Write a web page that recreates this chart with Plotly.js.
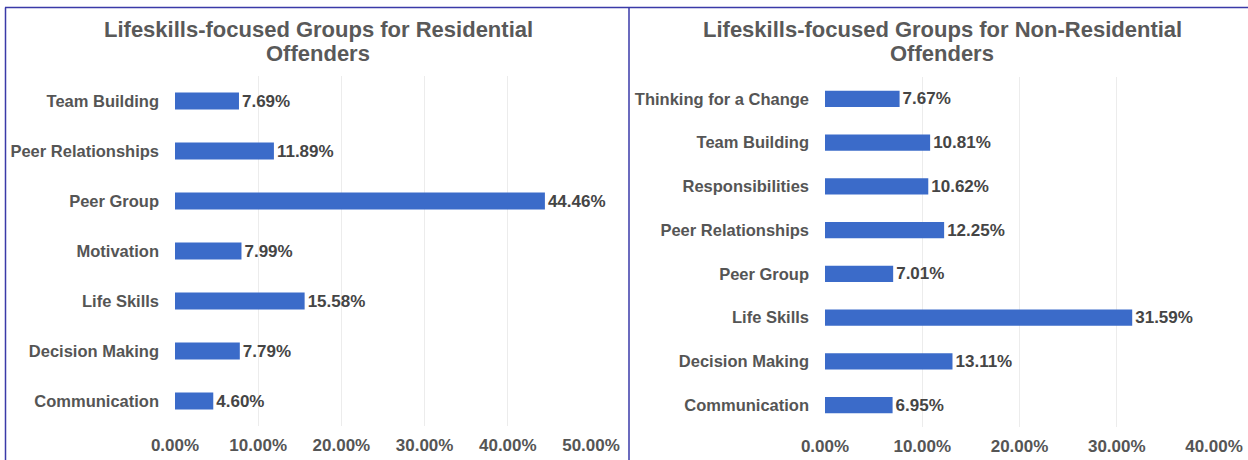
<!DOCTYPE html>
<html>
<head>
<meta charset="utf-8">
<script src="https://cdn.plot.ly/plotly-3.0.1.min.js"></script>
<style>
html,body{margin:0;padding:0;background:#fff;}
#chart{width:1248px;height:460px;}
</style>
</head>
<body>
<div id="chart"></div>
<script>
// Left chart: Residential offenders (top to bottom)
const resCategories = ["Team Building", "Peer Relationships", "Peer Group", "Motivation", "Life Skills", "Decision Making", "Communication"];
const resValues = [7.69, 11.89, 44.46, 7.99, 15.58, 7.79, 4.60];
const resTicks = [0, 10, 20, 30, 40, 50];

// Right chart: Non-Residential offenders (top to bottom)
const nonResCategories = ["Thinking for a Change", "Team Building", "Responsibilities", "Peer Relationships", "Peer Group", "Life Skills", "Decision Making", "Communication"];
const nonResValues = [7.67, 10.81, 10.62, 12.25, 7.01, 31.59, 13.11, 6.95];
const nonResTicks = [0, 10, 20, 30, 40];

const titleLeftLines = ["Lifeskills-focused Groups for Residential", "Offenders"];
const titleRightLines = ["Lifeskills-focused Groups for Non-Residential", "Offenders"];

const W = 1248, H = 460;
const px = v => v / W;
const py = v => 1 - v / H;
const fmtPct = v => v.toFixed(2) + "%";

const FAM = "Liberation Sans, Arial, sans-serif";
const barColor = "#3b6bc9";
const labelFont = {family: FAM, size: 17, color: "#454545", weight: "bold"};
const yTickFont = {family: FAM, size: 16.5, color: "#555555", weight: "bold"};
const xTickFont = {family: FAM, size: 17, color: "#555555", weight: "bold"};
const titleFont = {family: FAM, size: 22, color: "#595959", weight: "bold"};

const traces = [
  {
    type: "bar", orientation: "h",
    x: resValues, y: resCategories,
    xaxis: "x", yaxis: "y",
    width: 0.34,
    marker: {color: barColor},
    texttemplate: "%{x:.2f}%", textposition: "outside", constraintext: "none",
    textfont: labelFont, cliponaxis: false, hoverinfo: "skip"
  },
  {
    type: "bar", orientation: "h",
    x: nonResValues, y: nonResCategories,
    xaxis: "x2", yaxis: "y2",
    width: 0.37,
    marker: {color: barColor},
    texttemplate: "%{x:.2f}%", textposition: "outside", constraintext: "none",
    textfont: labelFont, cliponaxis: false, hoverinfo: "skip"
  }
];

const xCommon = {
  showgrid: true, gridcolor: "#ececec", gridwidth: 1,
  zeroline: false, showline: false, ticks: "",
  tickfont: xTickFont, tickmode: "array",
  ticklabelstandoff: 7, fixedrange: true
};
const yCommon = {
  showgrid: false, zeroline: false, showline: false, ticks: "",
  autorange: "reversed", type: "category",
  tickfont: yTickFont, ticklabelstandoff: 15, fixedrange: true
};

function titleAnn(text, x, y) {
  return {text: text, xref: "paper", yref: "paper", x: px(x), y: py(y), xanchor: "center", yanchor: "middle",
          showarrow: false, font: titleFont};
}

const layout = {
  width: W, height: H,
  margin: {l: 0, r: 0, t: 0, b: 0},
  paper_bgcolor: "#ffffff", plot_bgcolor: "#ffffff",
  showlegend: false,
  xaxis: Object.assign({}, xCommon, {domain: [px(175), px(591)], range: [0, 50], tickvals: resTicks, ticktext: resTicks.map(fmtPct), anchor: "y"}),
  yaxis: Object.assign({}, yCommon, {domain: [py(426), py(76)], anchor: "x"}),
  xaxis2: Object.assign({}, xCommon, {domain: [px(825), px(1214)], range: [0, 40], tickvals: nonResTicks, ticktext: nonResTicks.map(fmtPct), anchor: "y2"}),
  yaxis2: Object.assign({}, yCommon, {domain: [py(427), py(77)], anchor: "x2"}),
  annotations: [
    titleAnn(titleLeftLines[0], 318, 29.5),
    titleAnn(titleLeftLines[1], 318, 53.5),
    titleAnn(titleRightLines[0], 942, 29.5),
    titleAnn(titleRightLines[1], 942, 53.5)
  ],
  shapes: [
    {type: "line", xref: "paper", yref: "paper", x0: px(5), x1: 1, y0: py(7.5), y1: py(7.5), line: {color: "#3a3aa8", width: 1.5}},
    {type: "line", xref: "paper", yref: "paper", x0: px(5.5), x1: px(5.5), y0: py(7.5), y1: 0, line: {color: "#3a3aa8", width: 1.5}},
    {type: "line", xref: "paper", yref: "paper", x0: px(629), x1: px(629), y0: py(7.5), y1: 0, line: {color: "#3a3aa8", width: 1.5}}
  ]
};

Plotly.newPlot("chart", traces, layout, {displayModeBar: false, staticPlot: true});
</script>
</body>
</html>
